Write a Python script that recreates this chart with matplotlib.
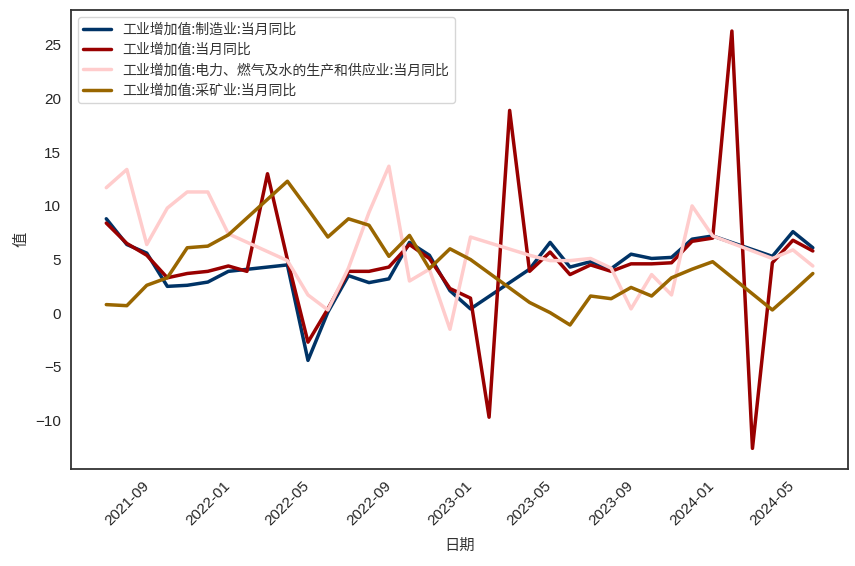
import matplotlib
matplotlib.use("Agg")
import matplotlib.pyplot as plt
import matplotlib.dates as mdates
import numpy as np
import pandas as pd
import seaborn as sns

sns.set_style("white")
plt.rcParams['font.family'] = ['Liberation Sans', 'Noto Sans CJK SC', 'DejaVu Sans']
plt.rcParams['axes.unicode_minus'] = True

# 月度数据 (2021-08 ~ 2024-07), 缺失月份用 None
months = pd.date_range("2021-08-01", "2024-07-01", freq="MS")

manufacturing = [8.8, 6.4, 5.6, 2.5, 2.6, 2.9, 3.9, None, None, 4.5,
                 -4.4, 0.1, 3.5, 2.85, 3.2, 6.6, 5.4, 2.1, 0.4, None,
                 None, 4.1, 6.6, 4.3, 4.8, 4.15, 5.5, 5.1, 5.2, 6.9,
                 7.2, None, None, 5.3, 7.6, 6.1]
total = [8.4, 6.5, 5.4, 3.3, 3.7, 3.9, 4.4, 3.9, 13.0, 5.0,
         -2.7, 0.4, 3.9, 3.9, 4.3, 6.4, 5.1, 2.3, 1.4, -9.7,
         18.9, 3.9, 5.7, 3.6, 4.5, 3.9, 4.6, 4.6, 4.7, 6.7,
         7.0, 26.3, -12.6, 4.7, 6.8, 5.8]
utilities = [11.7, 13.4, 6.4, 9.8, 11.3, 11.3, 7.4, None, None, 4.9,
             1.7, 0.3, 4.2, 9.4, 13.7, 3.0, 4.1, -1.5, 7.1, None,
             None, 5.4, 4.9, 4.9, 5.1, 4.2, 0.4, 3.6, 1.7, 10.0,
             7.2, None, None, 5.1, 5.9, 4.4]
mining = [0.8, 0.7, 2.6, 3.3, 6.1, 6.25, 7.3, None, None, 12.3,
          9.7, 7.1, 8.8, 8.2, 5.3, 7.25, 4.15, 6.0, 5.0, None,
          None, 1.0, 0.05, -1.1, 1.6, 1.35, 2.4, 1.6, 3.3, 4.1,
          4.8, None, None, 0.3, 2.0, 3.7]

series = [
    ("工业增加值:制造业:当月同比", manufacturing, "#003366"),
    ("工业增加值:当月同比", total, "#990000"),
    ("工业增加值:电力、燃气及水的生产和供应业:当月同比", utilities, "#ffcccc"),
    ("工业增加值:采矿业:当月同比", mining, "#996600"),
]

fig = plt.figure(figsize=(8.55, 5.66), dpi=100)
ax = fig.add_axes([0.083, 0.171, 0.909, 0.811])

for label, values, color in series:
    s = pd.Series(values, index=months, dtype=float).dropna()
    ax.plot(s.index, s.values, color=color, linewidth=2.5, label=label)

ax.xaxis.set_major_locator(mdates.MonthLocator(bymonth=[1, 5, 9]))
ax.xaxis.set_major_formatter(mdates.DateFormatter("%Y-%m"))
plt.setp(ax.get_xticklabels(), rotation=45, fontsize=11)
plt.setp(ax.get_yticklabels(), fontsize=11)

ax.set_xlabel("日期", fontsize=11, family=['Noto Sans CJK SC'], color="#333333", labelpad=6)
ax.set_ylabel("值", fontsize=11, family=['Noto Sans CJK SC'], color="#333333")

for sp in ax.spines.values():
    sp.set_color("#333333")
    sp.set_linewidth(1.3)

leg = ax.legend(loc="upper left", prop={'family': ['Noto Sans CJK SC'], 'size': 10},
                frameon=True, borderaxespad=0.5, labelspacing=0.45)
leg.get_frame().set_edgecolor("#cccccc")
for t in leg.get_texts():
    t.set_color("#333333")

fig.savefig("out.png", dpi=100)
